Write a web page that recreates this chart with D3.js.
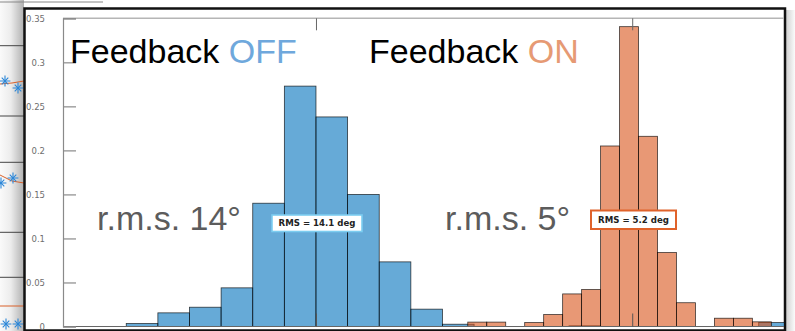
<!DOCTYPE html>
<html>
<head>
<meta charset="utf-8">
<script src="https://cdn.jsdelivr.net/npm/d3@7"></script>
<style>
  body { margin: 0; background: #fff; }
  svg { display: block; }
</style>
</head>
<body>
<div id="chart"></div>
<script>
var width = 795;
var height = 331;

// histogram data (bin start in degrees, probability)
var offStart = -30, offWidth = 5;
var offValues = [0.0034, 0.0155, 0.0219, 0.0439, 0.140, 0.273, 0.238, 0.150, 0.0734, 0.0197,
                 0.0026, 0, 0, 0, 0.0008, 0, 0, 0, 0, 0, 0.0045];
var onStart = 24, onWidth = 3;
var onValues = [0.005, 0.005, 0, 0.0045, 0.0136, 0.037, 0.042, 0.205, 0.3405, 0.216,
                0.084, 0.027, 0, 0.0094, 0.0094, 0.0053];
var yTicks = [0, 0.05, 0.1, 0.15, 0.2, 0.25, 0.3, 0.35];
var xTicks = [0, 50];
var titles = [["Feedback ", "OFF"], ["Feedback ", "ON"]];
var rmsText = ["r.m.s. 14\u00b0", "r.m.s. 5\u00b0"];
var rmsBoxes = ["RMS = 14.1 deg", "RMS = 5.2 deg"];

var blueFill = "rgb(0,114,189)";
var orangeFill = "rgb(217,83,25)";

var svg = d3.select("#chart").append("svg")
    .attr("width", width)
    .attr("height", height);

// ---- backdrop: bits of the slide behind the figure ----
var defs = svg.append("defs");
var sh = defs.append("linearGradient").attr("id", "shadeL").attr("x1", 0).attr("x2", 1);
sh.append("stop").attr("offset", 0).attr("stop-color", "#fafafa");
sh.append("stop").attr("offset", 0.45).attr("stop-color", "#ececec");
sh.append("stop").attr("offset", 1).attr("stop-color", "#b0b0b0");
var shR = defs.append("linearGradient").attr("id", "shadeR").attr("x1", 0).attr("x2", 1);
shR.append("stop").attr("offset", 0).attr("stop-color", "#d0d0d0");
shR.append("stop").attr("offset", 1).attr("stop-color", "#fbfbfb");

svg.append("rect").attr("x", 0).attr("y", 0).attr("width", 24).attr("height", height)
    .attr("fill", "url(#shadeL)");
svg.append("rect").attr("x", 786).attr("y", 10).attr("width", 9).attr("height", height)
    .attr("fill", "url(#shadeR)");
svg.append("line").attr("x1", 0).attr("x2", 103).attr("y1", 2).attr("y2", 2)
    .attr("stroke", "#888").attr("stroke-width", 1);

var backRules = [45.7, 116, 162.3, 232.3, 277.3];
svg.selectAll(".backrule").data(backRules).enter().append("line")
    .attr("x1", 0).attr("x2", 24)
    .attr("y1", function(d){ return d; }).attr("y2", function(d){ return d; })
    .attr("stroke", "#444").attr("stroke-width", 1);
var backCurves = [[[0, 84], [12, 83], [24, 81]], [[0, 175], [12, 181], [24, 183]], [[0, 306], [24, 306]]];
svg.selectAll(".backcurve").data(backCurves).enter().append("path")
    .attr("d", d3.line())
    .attr("fill", "none").attr("stroke", "#d8602a").attr("stroke-width", 1);
var backStars = [[5, 81], [18, 88], [1, 183], [13, 178], [6, 324], [18, 324]];
var starG = svg.selectAll(".backstar").data(backStars).enter().append("g")
    .attr("transform", function(d){ return "translate(" + d[0] + "," + d[1] + ")"; });
starG.append("path").attr("d", d3.symbol(d3.symbolPlus, 40))
    .attr("fill", "none").attr("stroke", "#2a86d8").attr("stroke-width", 1.1);
starG.append("path").attr("d", d3.symbol(d3.symbolTimes, 30))
    .attr("fill", "none").attr("stroke", "#2a86d8").attr("stroke-width", 1.1);

// ---- figure window ----
svg.append("rect")
    .attr("x", 24.5).attr("y", 8.5).attr("width", 760.5).attr("height", 322)
    .attr("fill", "#fff").attr("stroke", "#111").attr("stroke-width", 2.5);

var margin = {left: 63, right: 784, top: 18.3, bottom: 326.5};

var x = d3.scaleLinear().domain([-40, 74]).range([margin.left, margin.right]);
var y = d3.scaleLinear().domain([0, 0.35]).range([margin.bottom, margin.top]);

defs.append("clipPath").attr("id", "plotclip").append("rect")
    .attr("x", margin.left).attr("y", margin.top)
    .attr("width", margin.right - margin.left).attr("height", margin.bottom - margin.top);

var plot = svg.append("g").attr("clip-path", "url(#plotclip)");

function drawBars(values, start, w, color, cls){
    plot.selectAll("." + cls)
        .data(values.map(function(v, i){ return {x0: start + i * w, x1: start + (i + 1) * w, v: v}; })
            .filter(function(d){ return d.v > 0; }))
        .enter().append("rect")
            .attr("class", cls)
            .attr("x", function(d){ return x(d.x0); })
            .attr("width", function(d){ return x(d.x1) - x(d.x0); })
            .attr("y", function(d){ return y(d.v); })
            .attr("height", function(d){ return y(0) - y(d.v); })
            .attr("fill", color).attr("fill-opacity", 0.6)
            .attr("stroke", "#000").attr("stroke-opacity", 0.75).attr("stroke-width", 0.8);
}
drawBars(offValues, offStart, offWidth, blueFill, "off");
drawBars(onValues, onStart, onWidth, orangeFill, "on");

// axes box
var axisColor = "#8a8a8a";
svg.append("line").attr("x1", margin.left).attr("x2", margin.right)
    .attr("y1", margin.top).attr("y2", margin.top)
    .attr("stroke", "#b5b5b5").attr("stroke-width", 1.6);
svg.append("line").attr("x1", margin.left).attr("x2", margin.right)
    .attr("y1", margin.bottom).attr("y2", margin.bottom)
    .attr("stroke", "#666").attr("stroke-width", 1.2);

var yAxis = svg.append("g")
    .attr("transform", "translate(" + margin.left + ",0)")
    .call(d3.axisLeft(y).tickValues(yTicks).tickSize(-13).tickPadding(18)
        .tickFormat(function(d){ return d3.format("~g")(d); }));
yAxis.select(".domain").attr("stroke", axisColor).attr("stroke-width", 1.2);
yAxis.selectAll(".tick line").attr("stroke", axisColor).attr("stroke-width", 1.2);
yAxis.selectAll(".tick text")
    .attr("font-family", "DejaVu Sans").attr("font-size", 8.5).attr("fill", "#6e6e6e");

var xTop = svg.append("g")
    .attr("transform", "translate(0," + margin.top + ")")
    .call(d3.axisTop(x).tickValues(xTicks).tickSize(-12).tickFormat(""));
xTop.select(".domain").remove();
xTop.selectAll(".tick line").attr("stroke", "#666").attr("stroke-width", 1);

var xBot = svg.append("g")
    .attr("transform", "translate(0," + margin.bottom + ")")
    .call(d3.axisBottom(x).tickValues(xTicks).tickSize(-13).tickFormat(""));
xBot.select(".domain").remove();
xBot.selectAll(".tick line").attr("stroke", "#555").attr("stroke-width", 1);

// titles
var titleX = [70, 369];
var titleColors = ["#6fa8dc", "#e69a74"];
titles.forEach(function(t, i){
    var txt = svg.append("text")
        .attr("x", titleX[i]).attr("y", 63)
        .attr("font-family", "Liberation Sans, Arial, sans-serif")
        .attr("font-size", 34);
    txt.append("tspan").attr("fill", "#000").text(t[0]);
    txt.append("tspan").attr("fill", titleColors[i]).text(t[1]);
});

// r.m.s. annotations
var rmsX = [97, 445];
rmsText.forEach(function(t, i){
    svg.append("text")
        .attr("x", rmsX[i]).attr("y", 230)
        .attr("font-family", "Liberation Sans, Arial, sans-serif")
        .attr("font-size", 34).attr("fill", "#5c5c5c")
        .text(t);
});

// data-tip style boxes
var boxes = [
    {x: 272, y: 215, w: 90, h: 16.5, stroke: "#7ccdf0", sw: 1.6},
    {x: 591, y: 210.5, w: 85, h: 18.5, stroke: "#e0622a", sw: 2}
];
boxes.forEach(function(b, i){
    svg.append("rect")
        .attr("x", b.x).attr("y", b.y).attr("width", b.w).attr("height", b.h)
        .attr("fill", "#fff").attr("stroke", b.stroke).attr("stroke-width", b.sw);
    svg.append("text")
        .attr("x", b.x + b.w / 2).attr("y", b.y + b.h / 2 + 3.2)
        .attr("text-anchor", "middle")
        .attr("font-family", "DejaVu Sans").attr("font-weight", "bold")
        .attr("font-size", 8.6).attr("fill", "#222")
        .text(rmsBoxes[i]);
});
</script>
</body>
</html>
